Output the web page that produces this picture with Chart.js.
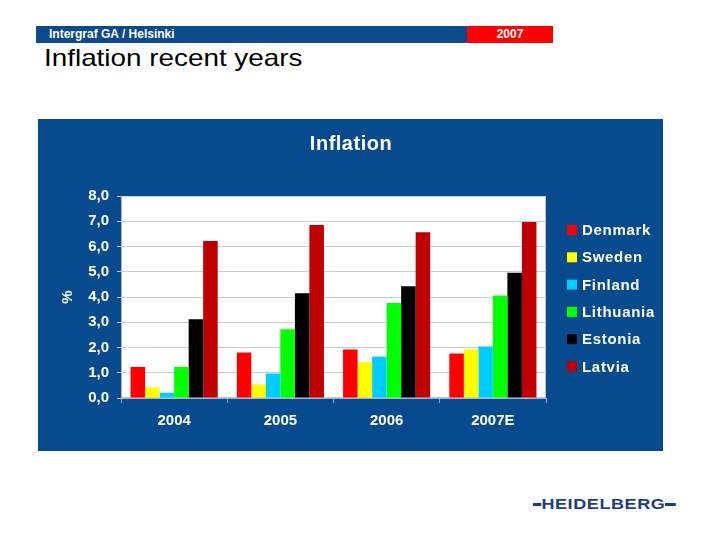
<!DOCTYPE html>
<html>
<head>
<meta charset="utf-8">
<script src="https://cdn.jsdelivr.net/npm/chart.js@4/dist/chart.umd.min.js"></script>
<style>
  html, body { margin: 0; padding: 0; background: #ffffff; }
  body { width: 720px; height: 540px; position: relative; overflow: hidden; font-family: "Liberation Sans", Arial, sans-serif; }
  #hdrBlue { position: absolute; left: 36px; top: 26px; width: 431px; height: 17px; background: #0b4a8b; }
  #hdrRed { position: absolute; left: 467px; top: 26px; width: 86px; height: 17px; background: #ff0000; }
  #hdrText { position: absolute; left: 49px; top: 27px; font-size: 12px; font-weight: bold; color: #ffffff; line-height: 15px; }
  #hdrYear { position: absolute; left: 467px; top: 27px; width: 86px; text-align: center; font-size: 12px; font-weight: bold; color: #ffffff; line-height: 15px; }
  #pageTitle { position: absolute; left: 44px; top: 44px; font-size: 24px; color: #000000; line-height: 28px; transform: scaleX(1.16); transform-origin: 0 0; white-space: nowrap; }
  #panel { position: absolute; left: 38px; top: 119px; width: 625px; height: 332px; background: #074a8d; }
  #chart { position: absolute; left: 0; top: 0; }
  #logo { position: absolute; left: 533px; top: 494px; height: 20px; color: #1c3f80; font-weight: bold; font-size: 15px; letter-spacing: 0.5px; line-height: 20px; white-space: nowrap; transform: scaleX(1.2); transform-origin: 0 0; }
  #logo .ln { display: inline-block; width: 7px; height: 3px; background: #1c3f80; vertical-align: middle; margin-top: -2px; }
</style>
</head>
<body>
<div id="hdrBlue"></div>
<div id="hdrRed"></div>
<div id="hdrText">Intergraf GA / Helsinki</div>
<div id="hdrYear">2007</div>
<div id="pageTitle">Inflation recent years</div>
<div id="panel"><canvas id="chart" width="625" height="332"></canvas></div>
<div id="logo"><span class="ln"></span>HEIDELBERG<span class="ln" style="width:9px"></span></div>
<script>
const categories = ['2004', '2005', '2006', '2007E'];
const countries = ['Denmark', 'Sweden', 'Finland', 'Lithuania', 'Estonia', 'Latvia'];
const denmark   = [1.23, 1.80, 1.92, 1.76];
const sweden    = [0.42, 0.54, 1.42, 1.93];
const finland   = [0.21, 0.97, 1.64, 2.04];
const lithuania = [1.23, 2.72, 3.76, 4.06];
const estonia   = [3.12, 4.15, 4.43, 4.96];
const latvia    = [6.22, 6.85, 6.56, 6.97];
const seriesValues = [denmark, sweden, finland, lithuania, estonia, latvia];
const seriesColors = ['#ff0000', '#ffff00', '#00ccff', '#00ff00', '#000000', '#c00000'];
const chartTitle = 'Inflation';
const yAxisTitle = '%';
const yMin = 0, yMax = 8, yStep = 1;

const FONT = '"Liberation Sans", Arial, sans-serif';

const plotBg = {
  id: 'plotBg',
  beforeDraw(chart) {
    const { ctx, chartArea: a } = chart;
    ctx.save();
    ctx.fillStyle = '#ffffff';
    ctx.fillRect(a.left, a.top, a.right - a.left, a.bottom - a.top);
    ctx.strokeStyle = '#b8c2d4';
    ctx.lineWidth = 1;
    ctx.strokeRect(a.left + 0.5, a.top + 0.5, a.right - a.left - 1, a.bottom - a.top - 1);
    ctx.restore();
  }
};

const panelTitle = {
  id: 'panelTitle',
  afterDraw(chart) {
    const { ctx } = chart;
    ctx.save();
    ctx.font = 'bold 20px ' + FONT;
    ctx.fillStyle = '#ffffff';
    ctx.textAlign = 'center';
    ctx.textBaseline = 'middle';
    try { ctx.letterSpacing = '0.5px'; } catch (e) {}
    ctx.fillText(chartTitle, chart.width / 2 + 0.5, 25);
    ctx.restore();
  }
};

const sideLegend = {
  id: 'sideLegend',
  afterDraw(chart) {
    const { ctx, chartArea: a } = chart;
    const x0 = a.right + 21;
    const y0 = a.top + 34;
    const gap = 27.3;
    ctx.save();
    ctx.font = 'bold 15px ' + FONT;
    ctx.textBaseline = 'middle';
    ctx.textAlign = 'left';
    try { ctx.letterSpacing = '0.7px'; } catch (e) {}
    chart.data.datasets.forEach((ds, i) => {
      const y = y0 + i * gap;
      ctx.fillStyle = ds.backgroundColor;
      ctx.fillRect(x0, y - 5, 10, 10);
      ctx.fillStyle = '#ffffff';
      ctx.fillText(ds.label, x0 + 15, y + 1);
    });
    ctx.restore();
  }
};

new Chart(document.getElementById('chart'), {
  type: 'bar',
  data: {
    labels: categories,
    datasets: countries.map((name, i) => ({
      label: name,
      data: seriesValues[i],
      backgroundColor: seriesColors[i],
      borderWidth: 0,
      categoryPercentage: 0.82,
      barPercentage: 1.0
    }))
  },
  options: {
    responsive: false,
    animation: false,
    devicePixelRatio: 1,
    layout: { padding: { left: 0, right: 117, top: 77, bottom: 0 } },
    plugins: {
      legend: { display: false },
      tooltip: { enabled: false },
      title: { display: false }
    },
    scales: {
      x: {
        grid: { display: true, drawOnChartArea: false, drawTicks: true, tickLength: 5, color: '#8fa3c4' },
        border: { display: true, color: '#a9b6cc' },
        ticks: { color: '#ffffff', font: { family: FONT, size: 15, weight: 'bold' }, padding: 9 },
        afterFit(scale) { scale.height = 53; }
      },
      y: {
        min: yMin,
        max: yMax,
        grid: { color: '#c6cedc', tickLength: 4, drawTicks: true },
        border: { display: true, color: '#a9b6cc' },
        ticks: {
          stepSize: yStep,
          color: '#ffffff',
          font: { family: FONT, size: 15, weight: 'bold' },
          padding: 8,
          callback: (v) => Number(v).toFixed(1).replace('.', ',')
        },
        title: {
          display: true,
          text: yAxisTitle,
          color: '#ffffff',
          font: { family: FONT, size: 15, weight: 'bold' },
          padding: { top: 21, bottom: 0 }
        },
        afterFit(scale) { scale.width = 83; }
      }
    }
  },
  plugins: [plotBg, panelTitle, sideLegend]
});
</script>
</body>
</html>
